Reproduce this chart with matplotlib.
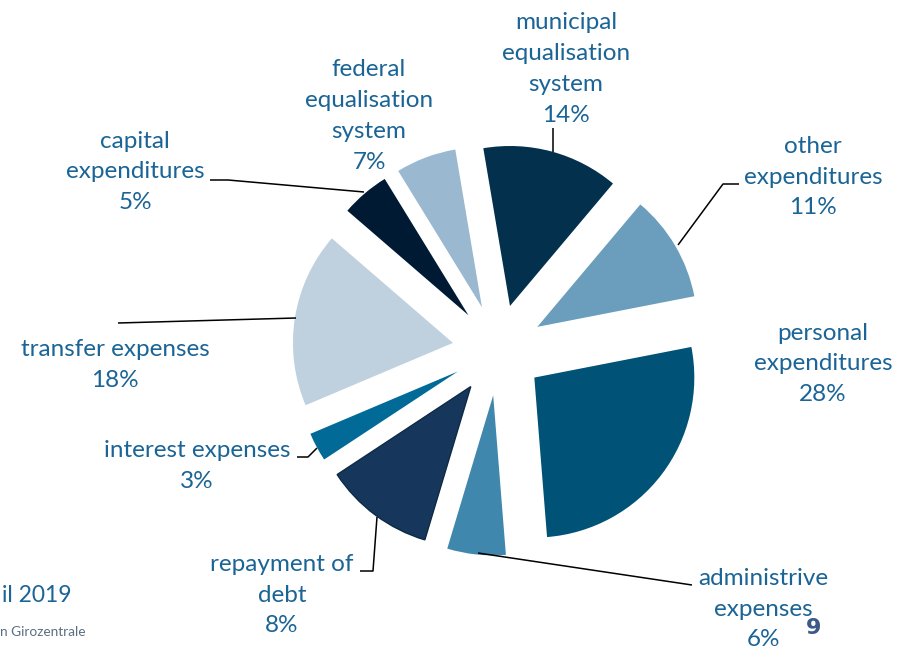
import matplotlib
matplotlib.use("Agg")
import matplotlib.pyplot as plt

# ---- data ----
categories = ["municipal\nequalisation\nsystem", "other\nexpenditures", "personal\nexpenditures",
              "administrive\nexpenses", "repayment of\ndebt", "interest expenses",
              "transfer expenses", "capital\nexpenditures", "federal\nequalisation\nsystem"]
label_pct = ["14%", "11%", "28%", "6%", "8%", "3%", "18%", "5%", "7%"]
# slice sizes as drawn in the picture (share of the circle, %)
slice_share = [13.8, 10.8, 26.8, 5.9, 11.1, 2.9, 17.7, 4.9, 6.1]
colors = ["#03304c", "#6b9dbd", "#015277", "#3f87ad", "#17365c",
          "#016a97", "#bfd0df", "#011a33", "#9ab8cf"]

W, H = 908, 649
fig = plt.figure(figsize=(W / 100, H / 100), dpi=100)
ax = fig.add_axes([0, 0, 1, 1])

def Y(y):
    return H - y

R = 160
cx, cy = 498, Y(350)
wedges, _ = ax.pie(slice_share, startangle=99.6, counterclock=False, radius=R,
                   center=(cx, cy), explode=[0.285 * R] * len(slice_share),
                   colors=colors, wedgeprops=dict(linewidth=0), frame=True)
wedges[4].set_edgecolor("#0d2a45")
wedges[4].set_linewidth(1.0)
ax.set_xlim(0, W)
ax.set_ylim(0, H)
ax.set_aspect("equal")
ax.axis("off")

txt_color = "#1a6496"
font = ["Lato", "DejaVu Sans"]
fs = 17.5
ls = 1.58

# label anchor positions (pixel coords of block centre)
label_pos = [(566, 69), (813, 177), (823, 364), (763, 609), (282, 595),
             (197, 466), (115, 365), (135, 172), (369, 116)]
for name, pct, (x, y) in zip(categories, label_pct, label_pos):
    ax.text(x, Y(y), name + "\n" + pct, ha="center", va="center", fontsize=fs,
            color=txt_color, family=font, linespacing=ls)

# leader lines
leaders = [
    [(553, 128), (553, 152)],
    [(678, 245), (723, 184), (739, 184)],
    [(210, 180), (228, 180), (364, 192)],
    [(118, 323), (296, 318)],
    [(297, 457), (308, 457), (317, 448)],
    [(360, 571), (373, 571), (377, 517)],
    [(478, 553), (692, 585)],
]
for pts in leaders:
    xs = [p[0] for p in pts]
    ys = [Y(p[1]) for p in pts]
    ax.plot(xs, ys, color="black", lw=1.1, solid_capstyle="butt")

# footer fragments
ax.text(2, Y(595), "il 2019", ha="left", va="center", fontsize=16.5, color=txt_color, family=font)
ax.text(0, Y(632), "n Girozentrale", ha="left", va="center", fontsize=9.8, color="#5b6f82", family=font)
ax.text(814, Y(628), "9", ha="center", va="center", fontsize=16, fontweight="bold",
        color="#3b5a85", family=["DejaVu Sans"])

fig.savefig("out.png", dpi=100)
